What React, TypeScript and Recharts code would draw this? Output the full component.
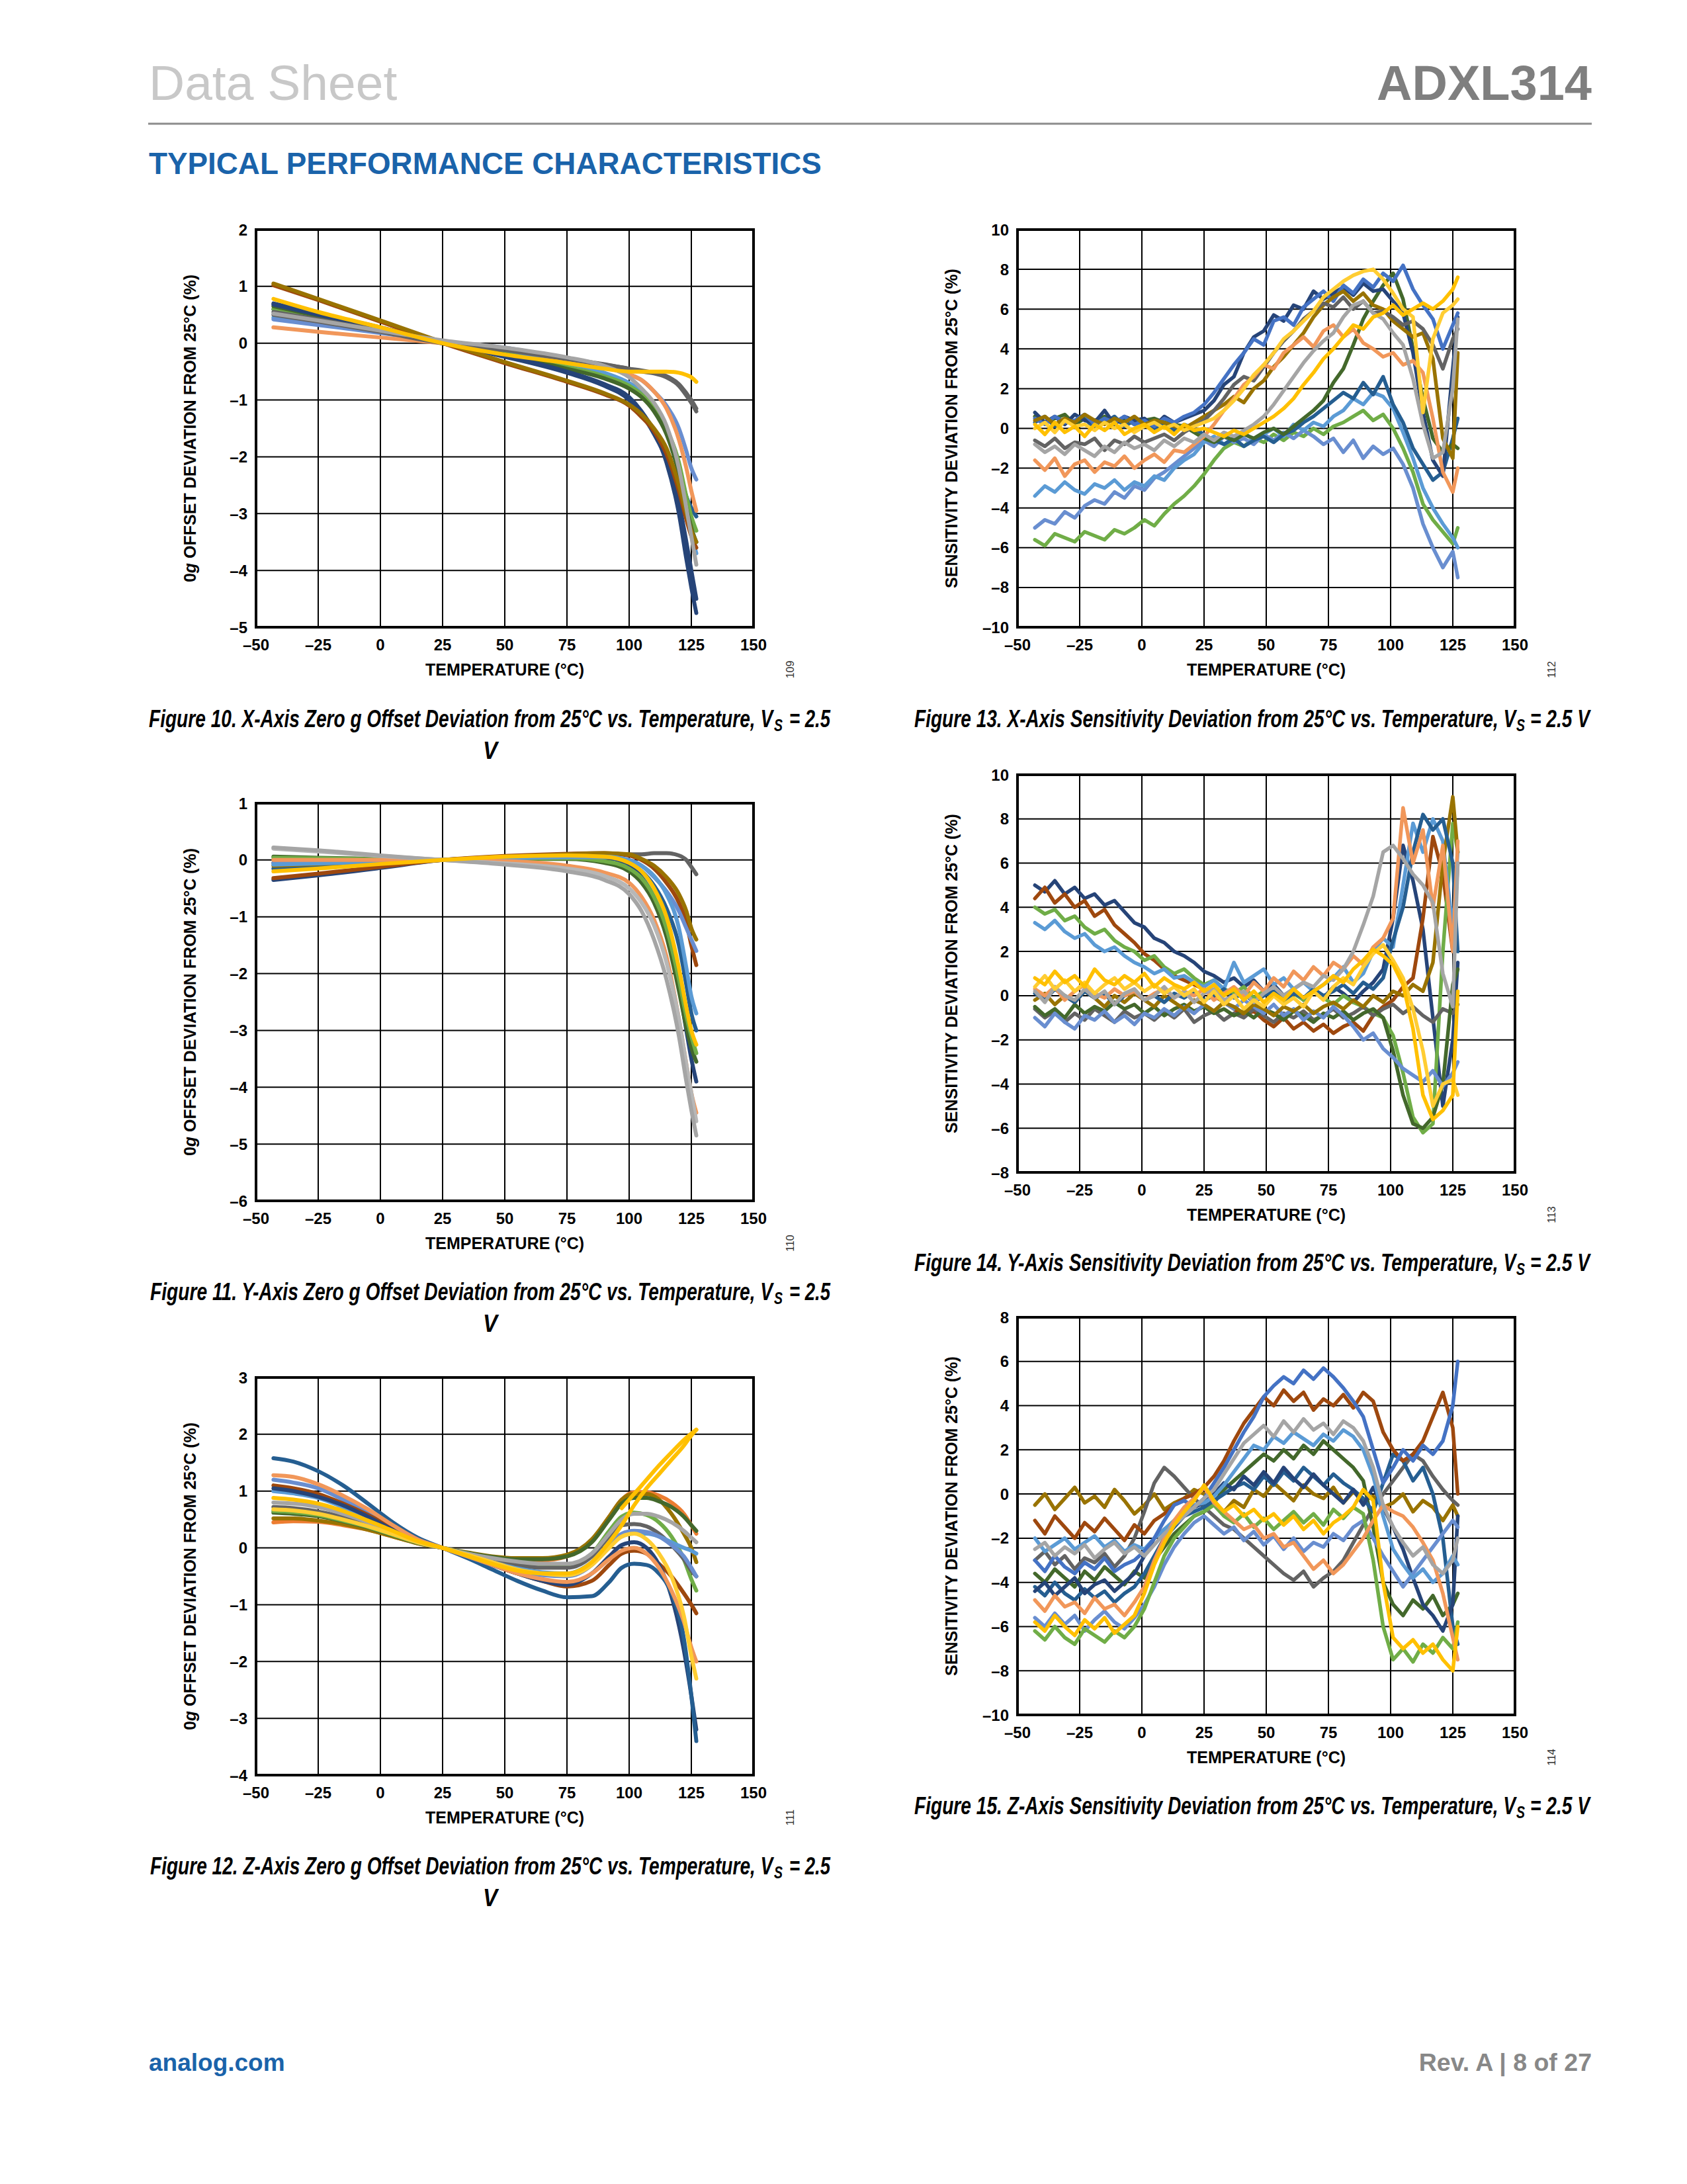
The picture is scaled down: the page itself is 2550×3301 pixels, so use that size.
import React, { useLayoutEffect, useRef, useState } from 'react';
import { LineChart, Line, XAxis, YAxis, CartesianGrid, ReferenceArea } from 'recharts';

const FONT = '"Liberation Sans", Arial, Helvetica, sans-serif';
const CAP_FONT = '"Liberation Sans Narrow", "Arial Narrow", "Liberation Sans", Arial, sans-serif';

// ---------- colours ----------
const NAVY = '#264478';
const BLUE = '#4472C4';
const BLUE2 = '#698ED0';
const LIGHTBLUE = '#5B9BD5';
const MIDBLUE = '#255E91';
const ORANGE = '#F1975A';
const DARKORANGE = '#ED7D31';
const BROWN = '#9E480E';
const OLIVE = '#997300';
const YELLOW = '#FFC000';
const YELLOW2 = '#FFCD33';
const GRAY = '#A5A5A5';
const LIGHTGRAY = '#B7B7B7';
const DARKGRAY = '#636363';
const GREEN = '#70AD47';
const DARKGREEN = '#43682B';

// ---------- axes ----------
const X_TICKS = [-50, -25, 0, 25, 50, 75, 100, 125, 150];
const Y_TICKS_10 = [-5, -4, -3, -2, -1, 0, 1, 2];
const Y_TICKS_11 = [-6, -5, -4, -3, -2, -1, 0, 1];
const Y_TICKS_12 = [-4, -3, -2, -1, 0, 1, 2, 3];
const Y_TICKS_13 = [-10, -8, -6, -4, -2, 0, 2, 4, 6, 8, 10];
const Y_TICKS_14 = [-8, -6, -4, -2, 0, 2, 4, 6, 8, 10];
const Y_TICKS_15 = [-10, -8, -6, -4, -2, 0, 2, 4, 6, 8];

// ---------- Figure 10: X-axis zero g offset ----------
const T_FIG10 = [-43, -25, 0, 25, 50, 75, 90, 100, 105, 110, 115, 120, 123, 125, 127];
const F10_OLIVE = [1.05, 0.78, 0.4, 0.02, -0.33, -0.66, -0.88, -1.08, -1.25, -1.5, -1.85, -2.5, -3.0, -3.3, -3.5];
const F10_BROWN = [1.02, 0.76, 0.38, 0.0, -0.35, -0.68, -0.9, -1.1, -1.3, -1.55, -1.95, -2.6, -3.1, -3.4, -3.6];
const F10_NAVY = [0.7, 0.52, 0.28, 0.0, -0.22, -0.5, -0.72, -0.95, -1.2, -1.55, -2.1, -3.0, -3.8, -4.3, -4.75];
const F10_NAVY2 = [0.68, 0.5, 0.26, 0.0, -0.24, -0.52, -0.75, -1.0, -1.25, -1.6, -2.05, -2.8, -3.5, -4.0, -4.5];
const F10_DARKGREEN = [0.65, 0.48, 0.25, 0.0, -0.2, -0.45, -0.62, -0.8, -0.95, -1.2, -1.6, -2.3, -2.9, -3.25, -3.5];
const F10_GREEN = [0.6, 0.45, 0.24, 0.0, -0.18, -0.42, -0.58, -0.75, -0.9, -1.12, -1.5, -2.1, -2.7, -3.05, -3.3];
const F10_MIDBLUE = [0.6, 0.45, 0.25, 0.0, -0.2, -0.45, -0.6, -0.78, -0.92, -1.15, -1.55, -2.2, -2.7, -2.9, -3.05];
const F10_LIGHTBLUE = [0.45, 0.36, 0.2, 0.02, -0.12, -0.35, -0.52, -0.7, -0.85, -1.1, -1.5, -2.2, -2.9, -3.35, -3.7];
const F10_BLUE = [0.42, 0.32, 0.18, 0.02, -0.08, -0.28, -0.42, -0.55, -0.65, -0.85, -1.1, -1.5, -1.9, -2.2, -2.4];
const F10_ORANGE = [0.28, 0.2, 0.1, 0.0, -0.1, -0.3, -0.42, -0.55, -0.65, -0.85, -1.15, -1.7, -2.2, -2.6, -2.95];
const F10_LIGHTGRAY = [0.52, 0.4, 0.22, 0.05, -0.08, -0.25, -0.4, -0.6, -0.8, -1.05, -1.45, -2.2, -2.9, -3.4, -3.9];
const F10_DARKGRAY = [0.55, 0.42, 0.22, 0.02, -0.12, -0.28, -0.38, -0.45, -0.5, -0.53, -0.6, -0.75, -0.92, -1.05, -1.2];
const F10_DARKGRAY2 = [0.5, 0.38, 0.2, 0.0, -0.1, -0.27, -0.37, -0.45, -0.48, -0.52, -0.58, -0.72, -0.88, -1.0, -1.15];
const F10_YELLOW = [0.78, 0.55, 0.28, 0.0, -0.2, -0.35, -0.45, -0.5, -0.5, -0.5, -0.5, -0.52, -0.56, -0.6, -0.68];

// ---------- Figure 11: Y-axis zero g offset ----------
const T_FIG11 = [-43, -25, 0, 25, 50, 75, 90, 100, 105, 110, 115, 120, 123, 125, 127];
const F11_LIGHTGRAY = [0.22, 0.17, 0.08, 0.0, -0.08, -0.2, -0.35, -0.6, -0.9, -1.4, -2.1, -3.1, -3.9, -4.4, -4.85];
const F11_GRAY = [0.2, 0.15, 0.07, 0.0, -0.06, -0.15, -0.28, -0.5, -0.75, -1.15, -1.8, -2.8, -3.6, -4.1, -4.6];
const F11_DARKGRAY = [-0.05, -0.04, -0.02, 0.0, 0.05, 0.08, 0.1, 0.1, 0.1, 0.12, 0.12, 0.08, 0.0, -0.12, -0.25];
const F11_OLIVE = [-0.1, -0.07, -0.03, 0.0, 0.06, 0.1, 0.12, 0.1, 0.02, -0.1, -0.3, -0.6, -0.9, -1.2, -1.4];
const F11_BROWN = [-0.32, -0.24, -0.12, 0.0, 0.07, 0.11, 0.12, 0.08, 0.0, -0.15, -0.4, -0.75, -1.1, -1.5, -1.85];
const F11_BLUE = [-0.05, -0.04, -0.02, 0.0, 0.03, 0.05, 0.05, 0.0, -0.1, -0.3, -0.55, -0.9, -1.2, -1.4, -1.6];
const F11_NAVY = [-0.35, -0.27, -0.14, 0.0, 0.05, 0.08, 0.05, -0.1, -0.3, -0.65, -1.2, -2.2, -3.0, -3.5, -3.9];
const F11_DARKGREEN = [0.06, 0.04, 0.02, 0.0, 0.02, 0.02, -0.05, -0.2, -0.4, -0.75, -1.35, -2.3, -2.95, -3.3, -3.55];
const F11_GREEN = [0.04, 0.03, 0.01, 0.0, 0.02, 0.03, -0.02, -0.15, -0.32, -0.65, -1.2, -2.1, -2.75, -3.1, -3.4];
const F11_ORANGE = [0.0, 0.0, 0.0, 0.0, -0.02, -0.1, -0.22, -0.4, -0.65, -1.05, -1.7, -2.8, -3.6, -4.1, -4.45];
const F11_LIGHTBLUE = [-0.08, -0.06, -0.03, 0.0, 0.03, 0.06, 0.06, 0.0, -0.1, -0.28, -0.6, -1.2, -1.9, -2.4, -2.7];
const F11_MIDBLUE = [-0.15, -0.11, -0.05, 0.0, 0.04, 0.07, 0.05, -0.05, -0.2, -0.45, -0.85, -1.5, -2.2, -2.7, -3.0];
const F11_YELLOW = [-0.2, -0.15, -0.07, 0.0, 0.06, 0.08, 0.06, -0.05, -0.2, -0.5, -1.0, -1.9, -2.6, -3.0, -3.25];

// ---------- Figure 12: Z-axis zero g offset ----------
const T_FIG12 = [-43, -35, -25, -15, -5, 5, 15, 25, 35, 45, 55, 65, 75, 85, 92, 97, 102, 107, 112, 117, 122, 125, 127];
const F12_MIDBLUE = [1.58, 1.52, 1.35, 1.1, 0.78, 0.45, 0.18, 0.0, -0.18, -0.38, -0.58, -0.75, -0.87, -0.85, -0.6, -0.35, -0.28, -0.3, -0.45, -0.8, -1.6, -2.6, -3.4];
const F12_NAVY = [1.05, 1.0, 0.9, 0.75, 0.55, 0.32, 0.13, 0.0, -0.15, -0.3, -0.45, -0.58, -0.65, -0.45, -0.15, 0.05, 0.1, 0.0, -0.3, -0.85, -1.8, -2.6, -3.2];
const F12_ORANGE = [1.28, 1.25, 1.12, 0.92, 0.68, 0.4, 0.15, 0.0, -0.15, -0.3, -0.45, -0.55, -0.6, -0.45, -0.2, -0.05, 0.0, -0.1, -0.35, -0.75, -1.3, -1.75, -2.0];
const F12_BROWN = [1.1, 1.05, 0.95, 0.78, 0.58, 0.35, 0.14, 0.0, -0.14, -0.3, -0.45, -0.58, -0.68, -0.58, -0.3, -0.1, -0.05, -0.1, -0.28, -0.5, -0.8, -1.0, -1.15];
const F12_BLUE = [1.2, 1.15, 1.05, 0.85, 0.62, 0.37, 0.14, 0.0, -0.14, -0.28, -0.4, -0.48, -0.5, -0.3, 0.05, 0.25, 0.3, 0.28, 0.2, 0.05, -0.15, -0.35, -0.5];
const F12_LIGHTBLUE = [1.0, 0.96, 0.88, 0.72, 0.53, 0.32, 0.12, 0.0, -0.12, -0.25, -0.36, -0.43, -0.45, -0.25, 0.05, 0.2, 0.25, 0.25, 0.2, 0.1, 0.0, -0.05, -0.1];
const F12_YELLOW2 = [0.68, 0.66, 0.6, 0.5, 0.38, 0.24, 0.1, 0.0, -0.12, -0.25, -0.38, -0.45, -0.48, -0.3, 0.0, 0.2, 0.25, 0.15, -0.1, -0.5, -1.2, -1.9, -2.3];
const F12_GRAY = [0.8, 0.78, 0.72, 0.6, 0.45, 0.28, 0.1, 0.0, -0.1, -0.18, -0.24, -0.28, -0.28, -0.1, 0.25, 0.5, 0.6, 0.6, 0.55, 0.45, 0.3, 0.18, 0.1];
const F12_DARKGREEN = [0.62, 0.6, 0.56, 0.47, 0.36, 0.22, 0.09, 0.0, -0.09, -0.16, -0.2, -0.2, -0.15, 0.1, 0.5, 0.78, 0.88, 0.88, 0.82, 0.72, 0.55, 0.4, 0.3];
const F12_OLIVE = [0.52, 0.52, 0.48, 0.42, 0.32, 0.2, 0.08, 0.0, -0.08, -0.15, -0.18, -0.18, -0.12, 0.15, 0.55, 0.85, 0.95, 0.95, 0.85, 0.6, 0.25, 0.0, -0.25];
const F12_GREEN = [0.65, 0.63, 0.58, 0.48, 0.37, 0.23, 0.09, 0.0, -0.1, -0.2, -0.28, -0.32, -0.3, -0.1, 0.3, 0.55, 0.62, 0.58, 0.45, 0.2, -0.2, -0.55, -0.75];
const F12_DARKORANGE = [0.45, 0.47, 0.46, 0.4, 0.32, 0.2, 0.08, 0.0, -0.1, -0.18, -0.22, -0.22, -0.15, 0.12, 0.55, 0.85, 0.98, 0.98, 0.92, 0.8, 0.6, 0.4, 0.25];
const F12_DARKGRAY = [0.72, 0.7, 0.64, 0.54, 0.4, 0.25, 0.1, 0.0, -0.12, -0.22, -0.3, -0.35, -0.35, -0.15, 0.2, 0.4, 0.42, 0.38, 0.25, 0.05, -0.2, -0.4, -0.5];
const F12_YELLOW = [0.88, 0.85, 0.78, 0.65, 0.48, 0.3, 0.12, 0.0, -0.14, -0.28, -0.4, -0.45, -0.45, -0.25, 0.1, 0.4, 0.75, 1.05, 1.3, 1.55, 1.8, 1.98, 2.08];
const T_FIG12_RETURN = [97, 102, 107, 112, 117, 122, 127];
const F12_YELLOW_RETURN = [0.7, 0.95, 1.2, 1.45, 1.68, 1.9, 2.08];

// ---------- sensitivity temperature grid ----------
const T_SENS = [-43, -39, -35, -31, -27, -23, -19, -15, -11, -7, -3, 1, 5, 9, 13, 17, 21, 25, 29, 33, 37, 41, 45, 49, 53, 57, 61, 65, 69, 73, 77, 81, 85, 89, 93, 97, 101, 105, 109, 113, 117, 121, 125, 127];

// ---------- Figure 13: X-axis sensitivity ----------
const F13_GREEN = [-5.6, -5.9, -5.3, -5.5, -5.7, -5.2, -5.4, -5.6, -5.1, -5.3, -5.0, -4.6, -4.9, -4.3, -3.8, -3.4, -2.9, -2.3, -1.6, -1.0, -0.7, -0.9, -0.5, -0.7, -0.3, -0.6, -0.2, -0.4, 0.0, -0.3, 0.1, 0.3, 0.6, 0.9, 0.4, 0.7, 0.0, -1.0, -2.2, -3.8, -4.6, -5.2, -5.8, -5.0];
const F13_BLUE2 = [-5.0, -4.6, -4.8, -4.2, -4.5, -3.9, -3.6, -3.8, -3.2, -3.5, -2.9, -3.1, -2.5, -2.2, -1.8, -1.4, -1.0, -0.6, -0.9, -0.4, -0.7, -0.5, -0.8, -0.3, -0.6, -0.2, -0.5, -0.1, -0.4, -0.8, -0.5, -1.2, -0.6, -1.5, -0.9, -1.3, -1.0, -1.8, -3.0, -4.8, -6.0, -7.0, -6.2, -7.5];
const F13_LIGHTBLUE = [-3.4, -2.9, -3.2, -2.7, -3.1, -3.3, -2.8, -3.0, -2.6, -3.1, -2.7, -2.9, -2.4, -2.6, -2.0, -1.6, -1.3, -0.7, -0.4, -0.8, -0.5, -0.2, -0.6, -0.3, 0.0, -0.4, 0.2, -0.1, 0.3, 0.1, 0.6, 0.9, 1.5, 1.2, 1.8, 1.6, 1.0, -0.2, -1.5, -3.0, -4.0, -4.8, -5.5, -6.0];
const F13_MIDBLUE = [0.3, 0.6, 0.1, 0.4, 0.2, 0.5, 0.0, 0.3, 0.6, 0.1, 0.4, 0.2, 0.0, 0.3, -0.1, 0.2, 0.0, -0.3, -0.6, -0.8, -0.5, -0.9, -0.6, -0.4, -0.7, -0.3, -0.1, 0.3, 0.6, 1.0, 1.4, 1.8, 1.5, 2.3, 1.7, 2.6, 1.2, 0.3, -1.0, -1.8, -2.6, -2.2, -0.5, 0.5];
const F13_DARKGREEN = [0.6, 0.3, 0.5, 0.7, 0.2, 0.5, 0.4, 0.6, 0.3, 0.5, 0.2, 0.4, 0.5, 0.3, 0.2, 0.1, -0.2, -0.5, -0.7, -0.4, -0.6, -0.3, -0.5, -0.2, 0.0, -0.3, 0.1, 0.5, 0.9, 1.4, 2.3, 3.0, 4.2, 5.5, 6.4, 7.2, 7.8, 6.5, 4.0, 1.5, -0.5, -1.2, -0.8, -1.0];
const F13_NAVY = [0.8, 0.3, 0.6, 0.2, 0.7, 0.4, 0.3, 0.9, 0.2, 0.6, 0.4, 0.5, 0.1, 0.6, 0.3, 0.5, 0.7, 0.9, 1.4, 2.2, 2.6, 3.8, 4.6, 4.9, 5.7, 5.4, 6.2, 6.0, 6.9, 6.5, 6.8, 7.1, 6.7, 7.3, 6.9, 7.0, 6.4, 5.8, 3.8, 0.8, -1.6, -2.4, 3.0, 5.6];
const F13_BLUE = [0.5, 0.2, 0.6, 0.3, 0.4, 0.7, 0.2, 0.5, 0.3, 0.6, 0.2, 0.4, 0.1, 0.5, 0.3, 0.6, 0.8, 1.2, 1.8, 2.5, 3.2, 3.8, 4.5, 4.2, 5.4, 5.6, 5.2, 6.1, 6.5, 6.9, 6.4, 7.2, 6.8, 7.5, 7.1, 7.8, 7.4, 8.2, 7.0, 6.2, 5.5, 4.0, 5.2, 5.8];
const F13_OLIVE = [0.4, 0.6, 0.2, 0.5, 0.3, 0.7, 0.4, 0.2, 0.5, 0.3, 0.6, 0.2, 0.4, 0.3, 0.1, 0.0, 0.3, 0.6, 0.9, 1.2, 1.6, 1.3, 2.0, 2.4, 3.1, 3.6, 4.2, 4.8, 5.6, 6.2, 6.6, 6.9, 6.4, 6.8, 6.2, 6.0, 5.4, 5.0, 4.6, 4.8, 3.5, -0.5, -1.5, 3.8];
const F13_DARKGRAY = [-0.6, -0.9, -0.5, -1.0, -0.7, -0.8, -0.5, -1.1, -0.6, -0.8, -0.4, -0.7, -0.5, -0.3, -0.6, -0.2, 0.1, 0.4, 0.9, 1.5, 2.2, 2.6, 2.4, 3.1, 3.8, 4.4, 4.9, 5.5, 5.9, 6.3, 6.1, 6.6, 6.0, 6.4, 5.8, 5.9, 5.6, 5.2, 5.4, 5.0, 4.2, 3.0, 4.5, 5.0];
const F13_ORANGE = [-1.6, -2.1, -1.5, -2.4, -1.8, -1.6, -2.2, -1.7, -1.9, -1.4, -2.0, -1.6, -1.3, -1.7, -1.1, -1.2, -0.8, -0.4, 0.2, 0.9, 1.5, 2.2, 2.6, 3.2, 3.0, 3.8, 4.2, 4.6, 4.1, 4.9, 5.2, 4.6, 5.0, 4.3, 4.0, 3.6, 3.8, 3.2, 3.4, 2.8, 0.5, -2.2, -3.2, -2.0];
const F13_GRAY = [-0.8, -1.2, -0.9, -1.3, -0.8, -1.1, -1.4, -0.9, -1.2, -0.7, -1.0, -0.8, -1.1, -0.6, -0.9, -0.5, -0.7, -0.3, -0.6, -0.2, -0.4, -0.1, 0.2, 0.6, 1.2, 1.9, 2.6, 3.3, 3.9, 4.4, 4.8, 5.6, 6.2, 6.4, 5.8, 5.5, 4.8, 4.2, 2.5, 0.2, -1.5, -1.2, 2.0, 5.5];
const F13_YELLOW2 = [0.0, 0.3, -0.2, 0.4, 0.1, 0.2, -0.1, 0.3, 0.0, 0.2, -0.2, 0.1, 0.3, 0.0, 0.2, -0.1, 0.1, 0.3, 0.5, 0.9, 1.4, 2.0, 2.7, 3.2, 3.8, 4.5, 4.9, 5.4, 5.9, 6.6, 7.0, 7.4, 7.7, 7.9, 8.0, 7.5, 6.8, 6.0, 5.6, 0.8, 4.5, 5.8, 6.2, 6.5];
const F13_YELLOW = [0.2, -0.3, 0.3, -0.2, 0.1, -0.4, 0.2, -0.1, 0.3, -0.3, 0.0, 0.2, -0.2, 0.1, -0.3, 0.2, -0.1, 0.0, -0.2, -0.4, -0.1, -0.3, 0.0, 0.3, 0.6, 1.0, 1.5, 2.2, 2.8, 3.5, 4.0, 4.6, 5.2, 5.0, 5.6, 5.8, 6.2, 5.7, 6.0, 6.3, 6.0, 6.4, 7.0, 7.6];

// ---------- Figure 14: Y-axis sensitivity ----------
const F14_NAVY = [5.0, 4.7, 5.2, 4.6, 4.9, 4.4, 4.6, 4.1, 4.3, 3.8, 3.3, 3.1, 2.6, 2.4, 2.0, 1.8, 1.5, 1.1, 0.9, 0.6, 0.8, 0.4, 0.7, 0.2, 0.5, 0.0, 0.3, -0.2, 0.2, -0.1, 0.4, 0.1, -0.3, 0.2, 0.6, 1.2, 3.5, 6.8, 5.2, 3.0, -1.0, -5.0, -2.0, 1.5];
const F14_BROWN = [4.4, 4.9, 4.2, 4.6, 4.0, 4.3, 3.6, 3.9, 3.2, 2.8, 2.4, 1.9, 1.6, 1.2, 0.9, 0.7, 0.5, 0.3, 0.0, -0.3, -0.6, -0.9, -0.7, -1.1, -1.4, -1.0, -1.5, -1.2, -1.6, -1.3, -1.7, -1.4, -1.2, -1.6, -0.9, -0.5, -0.2, 0.4, 0.8, 3.5, 7.2, 5.5, 2.0, 6.0];
const F14_GREEN = [4.0, 3.7, 3.9, 3.4, 3.6, 3.1, 2.8, 3.0, 2.5, 2.2, 2.0, 1.6, 1.8, 1.3, 1.0, 1.2, 0.8, 0.5, 0.7, 0.3, 0.1, 0.4, -0.1, 0.2, 0.0, -0.3, 0.1, -0.2, 0.2, -0.1, -0.4, 0.0, -0.3, -0.5, -0.8, -1.0, -1.8, -3.5, -5.5, -6.2, -5.8, 2.0, 7.8, 6.5];
const F14_LIGHTBLUE = [3.3, 3.0, 3.4, 2.9, 2.6, 2.8, 2.3, 2.0, 2.2, 1.8, 1.5, 1.3, 1.0, 1.2, 0.8, 0.9, 0.6, 0.4, 0.7, 0.3, 1.5, 0.6, 0.9, 1.2, 0.5, 0.8, 0.3, 0.6, 0.2, 0.5, 0.8, 1.3, 0.6, 1.0, 2.0, 2.6, 2.2, 5.0, 7.8, 6.5, 8.0, 7.0, 3.0, 6.5];
const F14_DARKGRAY = [-0.6, -1.0, -0.7, -1.2, -0.8, -1.1, -0.6, -0.9, -1.2, -0.7, -1.0, -0.8, -1.1, -0.7, -1.0, -0.6, -1.2, -0.9, -0.7, -1.1, -0.8, -1.0, -0.6, -0.9, -1.2, -0.8, -1.0, -0.7, -1.1, -0.9, -0.6, -1.0, -0.8, -0.5, -0.9, -0.6, -0.4, -0.8, -0.5, -0.9, -1.2, -0.6, -0.8, -0.4];
const F14_DARKGREEN = [-0.5, -0.9, -0.6, -1.0, -0.4, -0.8, -0.5, -0.7, -0.3, -0.6, -0.4, -0.8, -0.5, -0.9, -0.6, -0.4, -0.7, -0.5, -0.8, -0.6, -0.9, -0.7, -1.0, -0.6, -0.8, -1.1, -0.7, -0.9, -1.2, -0.8, -1.0, -0.7, -1.1, -0.8, -0.6, -1.0, -2.5, -4.5, -5.8, -6.0, -5.5, -4.0, 0.5, 1.2];
const F14_BLUE2 = [-1.0, -1.4, -0.8, -1.2, -1.5, -0.9, -1.1, -0.7, -1.2, -0.9, -1.3, -0.8, -1.0, -0.6, -0.9, -0.5, -0.8, -0.4, -0.7, -0.3, -0.6, -0.2, -0.5, -0.8, -0.4, -0.9, -0.6, -1.1, -0.7, -1.0, -0.5, -0.9, -1.4, -2.0, -1.7, -2.4, -2.8, -3.3, -3.6, -3.9, -3.4, -4.1, -3.5, -3.0];
const F14_OLIVE = [-0.2, 0.1, -0.4, 0.0, -0.3, 0.2, -0.1, -0.5, 0.0, -0.3, 0.1, -0.2, -0.5, 0.0, -0.3, -0.6, -0.2, -0.4, -0.7, -0.3, -0.5, -0.8, -0.4, -0.6, -0.9, -0.5, -0.7, -0.4, -0.8, -0.5, -0.3, -0.6, -0.2, -0.5, 0.0, -0.3, 0.2, 0.0, 0.5, 0.2, 1.5, 6.0, 9.0, 6.5];
const F14_MIDBLUE = [0.1, -0.2, 0.3, 0.0, -0.3, 0.2, -0.1, 0.1, -0.4, 0.0, 0.2, -0.2, 0.0, -0.3, 0.1, -0.1, 0.2, -0.2, 0.0, 0.3, -0.1, 0.1, -0.3, 0.0, 0.2, -0.2, 0.1, -0.1, 0.3, 0.0, 0.2, 0.5, 0.1, 0.6, 0.3, 0.8, 2.5, 4.0, 6.5, 8.2, 7.5, 8.0, 6.0, 2.0];
const F14_ORANGE = [0.3, 0.0, 0.4, -0.2, 0.2, 0.5, 0.1, -0.1, 0.3, 0.0, 0.2, -0.2, 0.1, 0.3, -0.1, 0.2, 0.0, 0.3, -0.2, 0.1, 0.4, 0.0, 0.6, 0.2, 0.8, 0.4, 1.1, 0.7, 1.3, 0.9, 1.5, 1.2, 1.8, 1.4, 2.2, 2.6, 3.5, 8.5, 6.0, 7.5, 4.0, 6.8, 2.0, 7.0];
const F14_GRAY = [0.2, -0.3, 0.4, 0.0, -0.2, 0.3, -0.1, 0.2, -0.4, 0.1, 0.3, -0.2, 0.0, 0.4, -0.1, 0.2, -0.3, 0.1, 0.3, -0.2, 0.0, 0.2, -0.3, 0.1, 0.4, 0.0, 0.3, 0.6, 0.4, 0.9, 0.7, 1.2, 2.0, 3.2, 4.5, 6.5, 6.8, 6.2, 5.5, 5.0, 4.2, 1.0, -0.5, 6.0];
const F14_YELLOW2 = [0.4, 0.9, 0.3, 0.7, 0.2, 0.6, 0.1, 0.5, 0.8, 0.3, 0.6, 0.2, 0.5, 0.1, 0.4, 0.0, 0.3, -0.3, 0.2, -0.4, 0.0, -0.6, -0.2, -0.5, 0.0, -0.4, -0.1, -0.5, 0.2, -0.2, 0.4, 0.8, 0.5, 1.3, 1.9, 2.3, 1.6, 0.8, -0.6, -2.5, -5.0, -4.0, -3.8, -4.5];
const F14_YELLOW = [0.8, 0.5, 1.1, 0.6, 0.9, 0.4, 1.2, 0.7, 0.5, 0.9, 0.6, 1.0, 0.4, 0.8, 0.5, 0.3, 0.6, 0.2, 0.5, 0.0, 0.3, -0.2, 0.2, -0.3, 0.1, -0.2, 0.3, -0.1, 0.2, 0.5, 0.9, 0.6, 1.2, 1.6, 2.1, 1.8, 1.4, 0.5, -1.5, -4.5, -5.6, -5.2, -4.5, 0.2];

// ---------- Figure 15: Z-axis sensitivity ----------
const F15_OLIVE = [-0.5, 0.0, -0.7, -0.2, 0.3, -0.4, -0.1, -0.6, 0.2, -0.3, -0.9, -0.5, 0.0, -0.7, -0.4, -0.2, 0.2, 0.0, -0.4, -0.8, -0.3, -0.6, 0.2, -0.1, 0.5, 0.1, -0.3, 0.4, 0.0, -0.2, 0.3, -0.4, 0.1, -0.3, -0.1, -0.6, -0.4, 0.0, -0.8, -0.3, -0.6, -1.2, -0.5, -1.0];
const F15_BROWN = [-1.2, -1.8, -1.0, -1.5, -2.0, -1.3, -1.7, -1.1, -1.6, -2.1, -1.4, -1.8, -1.2, -0.9, -0.5, -0.2, 0.0, 0.3, 0.8, 1.5, 2.4, 3.2, 3.8, 4.4, 4.0, 4.7, 4.2, 4.6, 3.8, 4.3, 4.0, 4.5, 3.9, 4.6, 4.2, 2.8, 2.0, 1.5, 1.8, 2.4, 3.5, 4.6, 3.0, 0.0];
const F15_BLUE = [-3.0, -3.5, -2.8, -3.3, -3.6, -3.1, -3.4, -2.9, -3.5, -3.2, -3.0, -2.6, -2.0, -1.2, -0.5, -0.3, -0.6, -0.2, 0.5, 1.2, 2.0, 2.8, 3.5, 4.4, 4.9, 5.3, 5.0, 5.6, 5.2, 5.7, 5.3, 4.8, 4.2, 3.5, 2.0, 0.5, 1.2, 2.0, 1.5, 2.2, 1.8, 2.4, 4.0, 6.0];
const F15_LIGHTBLUE = [-2.0, -2.6, -2.3, -2.0, -2.5, -2.2, -1.9, -2.4, -2.1, -2.6, -2.3, -2.5, -2.0, -1.6, -1.2, -0.8, -0.5, -0.4, -0.1, 0.4, 1.0, 1.6, 2.2, 2.0, 2.6, 2.3, 2.8, 2.5, 2.2, 2.7, 2.4, 2.9, 2.6, 2.0, 0.8, -1.0, -2.5, -3.2, -3.8, -3.4, -4.0, -3.6, -2.8, -3.2];
const F15_DARKGRAY = [-3.0, -2.6, -3.2, -2.8, -3.4, -2.9, -3.1, -2.7, -3.3, -2.8, -2.0, -0.8, 0.5, 1.2, 0.8, 0.3, -0.2, -0.6, -1.0, -1.4, -1.6, -2.0, -2.4, -2.8, -3.2, -3.6, -3.9, -3.5, -4.2, -3.8, -3.5, -3.0, -2.2, -1.4, -0.6, 0.0, 0.6, 1.2, 1.8, 1.5, 0.8, 0.2, -0.3, -0.5];
const F15_DARKGREEN = [-3.6, -4.0, -3.4, -3.8, -4.2, -3.5, -3.9, -3.3, -3.7, -4.1, -3.5, -3.8, -3.0, -2.4, -1.8, -1.4, -1.0, -0.8, -0.4, 0.2, 0.6, 1.0, 1.4, 1.8, 1.5, 2.0, 1.6, 2.2, 1.8, 2.4, 2.0, 1.6, 1.2, 0.6, -1.5, -4.0, -5.0, -5.5, -4.8, -5.2, -4.6, -5.5, -5.0, -4.5];
const F15_MIDBLUE = [-4.2, -4.6, -4.0, -4.5, -4.8, -4.3, -4.7, -4.4, -4.9, -4.5, -4.2, -3.6, -2.8, -2.0, -1.5, -1.0, -0.8, -0.6, -0.3, 0.0, 0.3, 0.5, 0.2, 0.8, 0.4, 1.0, 0.6, 1.2, 0.8, 0.4, 0.9, 0.5, 0.2, -0.2, -0.8, 0.5, 1.8, 1.5, 0.6, 1.2, 0.0, -2.0, -6.0, -6.8];
const F15_NAVY = [-4.4, -4.0, -4.6, -4.2, -3.8, -4.5, -4.1, -3.9, -4.4, -4.0, -3.6, -2.8, -2.0, -1.6, -1.3, -1.0, -0.6, -0.4, 0.0, 0.5, 0.2, 0.8, 0.4, 1.0, 0.5, 1.2, 0.7, 0.3, 0.9, 0.4, 0.0, -0.4, 0.2, -0.5, 0.3, -0.6, -1.5, -2.5, -3.8, -5.0, -5.5, -6.2, -5.0, -1.0];
const F15_BLUE2 = [-5.6, -6.0, -5.4, -5.9, -5.5, -6.2, -5.7, -5.3, -5.8, -6.1, -5.6, -5.0, -4.2, -3.2, -2.4, -1.8, -1.3, -1.0, -1.4, -1.8, -1.5, -2.1, -1.7, -2.3, -1.9, -2.5, -2.0, -2.6, -2.2, -2.4, -1.8, -2.1, -1.5, -1.2, -2.0, -2.8, -3.5, -4.2, -3.6, -3.0, -2.4, -1.8, -1.2, -1.5];
const F15_GREEN = [-6.2, -6.6, -6.0, -6.5, -6.8, -6.1, -6.4, -6.7, -6.2, -6.5, -6.0, -5.2, -4.0, -2.8, -2.0, -1.5, -1.0, -0.8, -0.5, -1.0, -1.3, -0.9, -1.5, -1.1, -1.6, -1.2, -0.8, -1.3, -0.9, -1.4, -0.7, -1.1, -0.6, -0.9, -3.0, -6.0, -7.5, -7.0, -7.6, -6.8, -7.2, -6.5, -7.0, -5.8];
const F15_ORANGE = [-4.8, -5.3, -4.6, -5.1, -4.9, -5.4, -4.7, -5.2, -5.0, -5.5, -4.9, -4.2, -3.0, -2.0, -1.2, -0.6, -0.2, 0.3, -0.4, -0.8, -1.2, -1.6, -1.4, -2.0, -1.8, -2.4, -2.2, -2.8, -3.4, -3.0, -3.6, -3.2, -2.6, -2.0, -1.2, -0.5, -0.8, -1.0, -1.5, -2.2, -3.0, -4.5, -6.5, -7.5];
const F15_GRAY = [-2.5, -2.2, -2.8, -2.4, -2.7, -2.3, -2.9, -2.5, -2.2, -2.7, -2.4, -2.8, -2.3, -1.8, -1.4, -1.0, -0.6, -0.2, 0.2, 0.9, 1.6, 2.3, 2.7, 3.1, 2.6, 3.3, 2.8, 3.4, 2.9, 3.2, 2.7, 3.3, 3.0, 2.4, 1.2, -0.5, -1.5, -2.2, -2.8, -2.4, -3.2, -3.6, -3.0, -2.0];
const F15_YELLOW = [-5.8, -6.2, -5.5, -6.0, -6.4, -5.7, -6.1, -5.6, -6.3, -5.9, -5.5, -4.5, -3.2, -2.2, -1.4, -0.8, -0.3, 0.4, -0.3, -0.8, -0.5, -1.0, -0.7, -1.2, -0.9, -1.4, -1.0, -1.6, -1.2, -1.8, -1.3, -1.0, -0.6, 0.2, -0.3, -4.0, -6.5, -7.0, -6.6, -7.2, -6.8, -7.5, -8.0, -6.0];

// ---------- helpers ----------
type Series = { color: string; xs: number[]; ys: number[] };
const s = (color: string, xs: number[], ys: number[]): Series => ({ color, xs, ys });

const zip = (xs: number[], ys: number[]) => {
  const n = Math.min(xs.length, ys.length);
  const out: { x: number; y: number }[] = [];
  for (let i = 0; i < n; i++) out.push({ x: xs[i], y: ys[i] });
  return out;
};

const fmt = (v: number) => (v < 0 ? '\u2013' + Math.abs(v) : String(v));

const FIG10_SERIES: Series[] = [
  s(LIGHTBLUE, T_FIG10, F10_LIGHTBLUE), s(MIDBLUE, T_FIG10, F10_MIDBLUE), s(GREEN, T_FIG10, F10_GREEN),
  s(DARKGREEN, T_FIG10, F10_DARKGREEN), s(NAVY, T_FIG10, F10_NAVY2), s(NAVY, T_FIG10, F10_NAVY),
  s(BLUE2, T_FIG10, F10_BLUE), s(ORANGE, T_FIG10, F10_ORANGE), s(DARKGRAY, T_FIG10, F10_DARKGRAY2),
  s(DARKGRAY, T_FIG10, F10_DARKGRAY), s(BROWN, T_FIG10, F10_BROWN), s(OLIVE, T_FIG10, F10_OLIVE),
  s(GRAY, T_FIG10, F10_LIGHTGRAY), s(YELLOW, T_FIG10, F10_YELLOW),
];
const FIG11_SERIES: Series[] = [
  s(DARKGRAY, T_FIG11, F11_DARKGRAY), s(NAVY, T_FIG11, F11_NAVY), s(MIDBLUE, T_FIG11, F11_MIDBLUE),
  s(DARKGREEN, T_FIG11, F11_DARKGREEN), s(GREEN, T_FIG11, F11_GREEN), s(BROWN, T_FIG11, F11_BROWN),
  s(OLIVE, T_FIG11, F11_OLIVE), s(BLUE2, T_FIG11, F11_BLUE), s(LIGHTBLUE, T_FIG11, F11_LIGHTBLUE),
  s(ORANGE, T_FIG11, F11_ORANGE), s(LIGHTGRAY, T_FIG11, F11_GRAY), s(GRAY, T_FIG11, F11_LIGHTGRAY),
  s(YELLOW, T_FIG11, F11_YELLOW),
];
const FIG12_SERIES: Series[] = [
  s(DARKORANGE, T_FIG12, F12_DARKORANGE), s(OLIVE, T_FIG12, F12_OLIVE), s(DARKGREEN, T_FIG12, F12_DARKGREEN),
  s(GREEN, T_FIG12, F12_GREEN), s(DARKGRAY, T_FIG12, F12_DARKGRAY), s(GRAY, T_FIG12, F12_GRAY),
  s(LIGHTBLUE, T_FIG12, F12_LIGHTBLUE), s(BLUE2, T_FIG12, F12_BLUE), s(BROWN, T_FIG12, F12_BROWN),
  s(NAVY, T_FIG12, F12_NAVY), s(MIDBLUE, T_FIG12, F12_MIDBLUE), s(ORANGE, T_FIG12, F12_ORANGE),
  s(YELLOW2, T_FIG12, F12_YELLOW2), s(YELLOW, T_FIG12, F12_YELLOW), s(YELLOW, T_FIG12_RETURN, F12_YELLOW_RETURN),
];
const FIG13_SERIES: Series[] = [
  s(GREEN, T_SENS, F13_GREEN), s(BLUE2, T_SENS, F13_BLUE2), s(LIGHTBLUE, T_SENS, F13_LIGHTBLUE),
  s(MIDBLUE, T_SENS, F13_MIDBLUE), s(DARKGREEN, T_SENS, F13_DARKGREEN), s(NAVY, T_SENS, F13_NAVY),
  s(BLUE, T_SENS, F13_BLUE), s(OLIVE, T_SENS, F13_OLIVE), s(DARKGRAY, T_SENS, F13_DARKGRAY),
  s(ORANGE, T_SENS, F13_ORANGE), s(GRAY, T_SENS, F13_GRAY), s(YELLOW2, T_SENS, F13_YELLOW2),
  s(YELLOW, T_SENS, F13_YELLOW),
];
const FIG14_SERIES: Series[] = [
  s(NAVY, T_SENS, F14_NAVY), s(BROWN, T_SENS, F14_BROWN), s(GREEN, T_SENS, F14_GREEN),
  s(LIGHTBLUE, T_SENS, F14_LIGHTBLUE), s(DARKGRAY, T_SENS, F14_DARKGRAY), s(DARKGREEN, T_SENS, F14_DARKGREEN),
  s(BLUE2, T_SENS, F14_BLUE2), s(OLIVE, T_SENS, F14_OLIVE), s(MIDBLUE, T_SENS, F14_MIDBLUE),
  s(ORANGE, T_SENS, F14_ORANGE), s(GRAY, T_SENS, F14_GRAY), s(YELLOW2, T_SENS, F14_YELLOW2),
  s(YELLOW, T_SENS, F14_YELLOW),
];
const FIG15_SERIES: Series[] = [
  s(OLIVE, T_SENS, F15_OLIVE), s(DARKGRAY, T_SENS, F15_DARKGRAY), s(DARKGREEN, T_SENS, F15_DARKGREEN),
  s(MIDBLUE, T_SENS, F15_MIDBLUE), s(NAVY, T_SENS, F15_NAVY), s(BLUE2, T_SENS, F15_BLUE2),
  s(LIGHTBLUE, T_SENS, F15_LIGHTBLUE), s(GREEN, T_SENS, F15_GREEN), s(BROWN, T_SENS, F15_BROWN),
  s(BLUE, T_SENS, F15_BLUE), s(ORANGE, T_SENS, F15_ORANGE), s(GRAY, T_SENS, F15_GRAY),
  s(YELLOW, T_SENS, F15_YELLOW),
];

// ---------- layout ----------
const PW = 752;
const PH = 601;
const ML = 140;
const MT = 20;
const MR = 80;
const XH = 90;

type PlotProps = {
  left: number;
  top: number;
  yTicks: number[];
  series: Series[];
  fig: string;
  offset: boolean;
};

function Plot({ left, top, yTicks, series, fig, offset }: PlotProps) {
  const yMin = yTicks[0];
  const yMax = yTicks[yTicks.length - 1];
  const W = ML + PW + MR;
  const H = MT + PH + XH;
  const tickStyle = { fill: '#000', fontSize: 24, fontWeight: 700, fontFamily: FONT };
  const ycx = ML - 100;
  const ycy = MT + PH / 2;
  const xcy = MT + PH + 64;
  const fx = ML + PW + 55;

  const yLabel = () => (
    <text
      x={ycx}
      y={ycy}
      transform={`rotate(-90 ${ycx} ${ycy})`}
      textAnchor="middle"
      dominantBaseline="central"
      fontFamily={FONT}
      fontSize={25}
      fontWeight={700}
      fill="#000"
    >
      {offset ? (
        <>
          <tspan>0</tspan>
          <tspan fontStyle="italic">g</tspan>
          <tspan> OFFSET DEVIATION FROM 25°C (%)</tspan>
        </>
      ) : (
        'SENSITIVITY DEVIATION FROM 25°C (%)'
      )}
    </text>
  );

  const xLabel = () => (
    <g>
      <text
        x={ML + PW / 2}
        y={xcy}
        textAnchor="middle"
        dominantBaseline="central"
        fontFamily={FONT}
        fontSize={25}
        fontWeight={700}
        fill="#000"
      >
        TEMPERATURE (°C)
      </text>
      <text
        x={fx}
        y={xcy}
        transform={`rotate(-90 ${fx} ${xcy})`}
        textAnchor="middle"
        dominantBaseline="central"
        fontFamily={FONT}
        fontSize={16}
        fill="#333"
      >
        {fig}
      </text>
    </g>
  );

  return (
    <div style={{ position: 'absolute', left: left - ML, top: top - MT, width: W, height: H }}>
      <LineChart width={W} height={H} margin={{ top: MT, right: MR, bottom: 0, left: 0 }}>
        <CartesianGrid stroke="#000" strokeWidth={2} />
        <XAxis
          type="number"
          dataKey="x"
          domain={[-50, 150]}
          ticks={X_TICKS}
          interval={0}
          allowDataOverflow
          tickLine={false}
          axisLine={false}
          tickSize={6}
          tickMargin={12}
          tick={tickStyle}
          tickFormatter={fmt}
          height={XH}
          label={xLabel}
        />
        <YAxis
          type="number"
          dataKey="y"
          domain={[yMin, yMax]}
          ticks={yTicks}
          interval={0}
          allowDataOverflow
          tickLine={false}
          axisLine={false}
          tickSize={6}
          tickMargin={7}
          tick={tickStyle}
          tickFormatter={fmt}
          width={ML}
          label={yLabel}
        />
        {series.map((sr, i) => (
          <Line
            key={i}
            data={zip(sr.xs, sr.ys)}
            dataKey="y"
            type={offset ? 'monotone' : 'linear'}
            stroke={sr.color}
            strokeWidth={offset ? 6 : 5.5}
            strokeLinejoin="round"
            strokeLinecap="round"
            dot={false}
            activeDot={false}
            isAnimationActive={false}
          />
        ))}
        <ReferenceArea
          x1={-50}
          x2={150}
          y1={yMin}
          y2={yMax}
          fill="none"
          fillOpacity={0}
          stroke="#000"
          strokeWidth={4}
          ifOverflow="visible"
        />
      </LineChart>
    </div>
  );
}

// text squeezed horizontally (by a transform) so that it spans exactly `width`
type FitProps = { x: number; y: number; width: number; fontSize: number; text: string };

function FitText({ x, y, width, fontSize, text }: FitProps) {
  const ref = useRef<SVGTextElement>(null);
  const [k, setK] = useState(0.7);
  useLayoutEffect(() => {
    const el = ref.current;
    if (el) {
      const w = el.getComputedTextLength();
      if (w > 0) setK(width / w);
    }
  }, [width, text, fontSize]);
  return (
    <g transform={`translate(${x} ${y}) scale(${k} 1)`}>
      <text
        ref={ref}
        x={0}
        y={0}
        fontFamily={CAP_FONT}
        fontSize={fontSize}
        fontWeight={700}
        fontStyle="italic"
        fill="#000"
      >
        {text}
      </text>
    </g>
  );
}

type CaptionProps = {
  x: number;
  baseline: number;
  wA: number;
  sx: number;
  cx: number;
  wC: number;
  num: string;
  body: string;
  tail: string;
  wrapCx?: number;
};

function Caption({ x, baseline, wA, sx, cx, wC, num, body, tail, wrapCx }: CaptionProps) {
  return (
    <g>
      <FitText x={x} y={baseline} width={wA} fontSize={37} text={`Figure ${num}. ${body}, V`} />
      <FitText x={sx} y={baseline + 6} width={13} fontSize={26} text="S" />
      <FitText x={cx} y={baseline} width={wC} fontSize={37} text={tail} />
      {wrapCx !== undefined ? <FitText x={wrapCx - 11} y={baseline + 48} width={22} fontSize={37} text="V" /> : null}
    </g>
  );
}

export default function App() {
  return (
    <div style={{ position: 'absolute', left: 0, top: 0, width: 2550, height: 3301, background: '#fff' }}>
      <svg width={2550} height={3301} style={{ position: 'absolute', left: 0, top: 0 }}>
        <text x={225} y={151} fontFamily={FONT} fontSize={75} fill="#c8c8c8">
          Data Sheet
        </text>
        <text x={2406} y={151} textAnchor="end" fontFamily={FONT} fontSize={74} fontWeight={700} fill="#7f7f7f">
          ADXL314
        </text>
        <line x1={224} x2={2406} y1={187} y2={187} stroke="#8c8c8c" strokeWidth={3} />
        <text x={225} y={263} fontFamily={FONT} fontSize={45.8} fontWeight={700} fill="#1a63aa">
          TYPICAL PERFORMANCE CHARACTERISTICS
        </text>

        <Caption x={225} baseline={1099} wA={943} sx={1170} cx={1193} wC={62} num="10" body="X-Axis Zero g Offset Deviation from 25°C vs. Temperature" tail="= 2.5" wrapCx={741} />
        <Caption x={1382} baseline={1099} wA={909} sx={2292} cx={2313} wC={90} num="13" body="X-Axis Sensitivity Deviation from 25°C vs. Temperature" tail="= 2.5 V" />
        <Caption x={227} baseline={1965} wA={941} sx={1170} cx={1193} wC={62} num="11" body="Y-Axis Zero g Offset Deviation from 25°C vs. Temperature" tail="= 2.5" wrapCx={741} />
        <Caption x={1382} baseline={1921} wA={909} sx={2292} cx={2313} wC={90} num="14" body="Y-Axis Sensitivity Deviation from 25°C vs. Temperature" tail="= 2.5 V" />
        <Caption x={227} baseline={2833} wA={941} sx={1170} cx={1193} wC={62} num="12" body="Z-Axis Zero g Offset Deviation from 25°C vs. Temperature" tail="= 2.5" wrapCx={741} />
        <Caption x={1382} baseline={2742} wA={909} sx={2292} cx={2313} wC={90} num="15" body="Z-Axis Sensitivity Deviation from 25°C vs. Temperature" tail="= 2.5 V" />

        <text x={225} y={3130} fontFamily={FONT} fontSize={37} fontWeight={700} fill="#1a63aa">
          analog.com
        </text>
        <text x={2406} y={3130} textAnchor="end" fontFamily={FONT} fontSize={37.5} fontWeight={700} fill="#888888">
          Rev. A | 8 of 27
        </text>
      </svg>

      <Plot left={387} top={347} yTicks={Y_TICKS_10} series={FIG10_SERIES} fig="109" offset />
      <Plot left={1538} top={347} yTicks={Y_TICKS_13} series={FIG13_SERIES} fig="112" offset={false} />
      <Plot left={387} top={1214} yTicks={Y_TICKS_11} series={FIG11_SERIES} fig="110" offset />
      <Plot left={1538} top={1171} yTicks={Y_TICKS_14} series={FIG14_SERIES} fig="113" offset={false} />
      <Plot left={387} top={2082} yTicks={Y_TICKS_12} series={FIG12_SERIES} fig="111" offset />
      <Plot left={1538} top={1991} yTicks={Y_TICKS_15} series={FIG15_SERIES} fig="114" offset={false} />
    </div>
  );
}
